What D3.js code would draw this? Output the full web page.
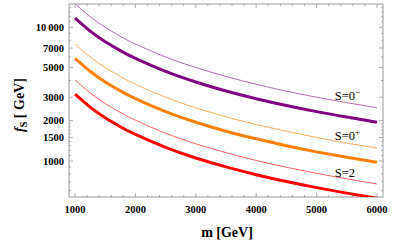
<!DOCTYPE html>
<html>
<head>
<meta charset="utf-8">
<script src="https://cdn.jsdelivr.net/npm/d3@7"></script>
<style>
  body { margin: 0; background: #fff; }
  text { font-family: "Liberation Serif", "DejaVu Serif", serif; }
</style>
</head>
<body>
<div id="chart"></div>
<script>
// masses read at each curve point [GeV]
const masses = [1000, 1250, 1500, 1750, 2000, 2500, 3000, 3500, 4000, 4500, 5000, 5500, 6000];

// f_S [GeV]
const s0minusThin  = [15000, 12000, 10000, 8570, 7500, 6000, 5000, 4290, 3750, 3330, 3000, 2730, 2500];
const s0minusThick = [11700, 9360, 7800, 6690, 5850, 4680, 3900, 3340, 2925, 2600, 2340, 2130, 1950];
const s0plusThin   = [7500, 6000, 5000, 4290, 3750, 3000, 2500, 2140, 1875, 1670, 1500, 1360, 1250];
const s0plusThick  = [5860, 4690, 3900, 3350, 2930, 2340, 1950, 1670, 1465, 1300, 1170, 1065, 977];
const s2Thin       = [4040, 3230, 2690, 2310, 2020, 1615, 1345, 1155, 1010, 898, 808, 735, 673];
const s2Thick      = [3160, 2530, 2105, 1805, 1580, 1265, 1053, 903, 790, 702, 632, 575, 527];

const xTicks = [1000, 2000, 3000, 4000, 5000, 6000];
const yTicks = [1000, 1500, 2000, 3000, 5000, 7000, 10000];
const yMinor = [600, 700, 800, 900, 1100, 1200, 1300, 1400, 1600, 1700, 1800, 1900,
                4000, 6000, 8000, 9000, 11000, 12000, 13000, 14000];
const labels = [
  {text: "S=0", sup: "\u2212", at: 5300, val: 2850},
  {text: "S=0", sup: "+", at: 5300, val: 1430},
  {text: "S=2", sup: null, at: 5300, val: 765}
];

const series = [
  {data: s0minusThin,  color: "#b565b5", w: 1},
  {data: s0minusThick, color: "#800080", w: 3},
  {data: s0plusThin,   color: "#ffaa55", w: 1},
  {data: s0plusThick,  color: "#ff8000", w: 3},
  {data: s2Thin,       color: "#ff6060", w: 1},
  {data: s2Thick,      color: "#ff0000", w: 3}
];

const width = 393, height = 247;
const margin = {left: 69, right: 10, top: 4, bottom: 50};
const x0 = margin.left, x1 = width - margin.right;
const y0 = height - margin.bottom, y1 = margin.top;

const svg = d3.select("#chart").append("svg")
  .attr("width", width).attr("height", height);

const x = d3.scaleLinear().domain([900, 6100]).range([x0, x1]);
// 1000 -> 161px, 10000 -> 27.3px
const pxPerDec = 133.7;
const y = d3.scaleLog()
  .domain([Math.pow(10, 3 - (y0 - 161) / pxPerDec), Math.pow(10, 3 + (161 - y1) / pxPerDec)])
  .range([y0, y1]);

svg.append("defs").append("clipPath").attr("id", "clip")
  .append("rect").attr("x", x0).attr("y", y1).attr("width", x1 - x0).attr("height", y0 - y1);

const frameColor = "#9a9a9a";

// frame
svg.append("rect")
  .attr("x", x0).attr("y", y1).attr("width", x1 - x0).attr("height", y0 - y1)
  .attr("fill", "none").attr("stroke", frameColor).attr("stroke-width", 1);

// ticks, inside, on all four sides
const xMinor = d3.range(1000, 6001, 200).filter(v => v % 1000 !== 0);
const tickG = svg.append("g").attr("stroke", frameColor).attr("stroke-width", 0.8);
xTicks.concat(xMinor).forEach(v => {
  const len = v % 1000 === 0 ? 4 : 2;
  tickG.append("line").attr("x1", x(v)).attr("x2", x(v)).attr("y1", y0).attr("y2", y0 - len);
  tickG.append("line").attr("x1", x(v)).attr("x2", x(v)).attr("y1", y1).attr("y2", y1 + len);
});
yTicks.concat(yMinor).forEach(v => {
  const len = yTicks.includes(v) ? 4 : 2;
  tickG.append("line").attr("x1", x0).attr("x2", x0 + len).attr("y1", y(v)).attr("y2", y(v));
  tickG.append("line").attr("x1", x1).attr("x2", x1 - len).attr("y1", y(v)).attr("y2", y(v));
});

// tick labels
svg.append("g").selectAll("text").data(xTicks).join("text")
  .attr("x", d => x(d)).attr("y", 213)
  .attr("text-anchor", "middle").attr("font-size", 10.5).attr("font-weight", "bold")
  .text(d => d);

svg.append("g").selectAll("text").data(yTicks).join("text")
  .attr("x", 64).attr("y", d => y(d) + 3.5)
  .attr("text-anchor", "end").attr("font-size", 10.5).attr("font-weight", "bold")
  .text(d => d >= 10000 ? "10\u2009000" : d);

// axis titles
svg.append("text")
  .attr("x", 227).attr("y", 237)
  .attr("text-anchor", "middle").attr("font-size", 14).attr("font-weight", "bold")
  .text("m [GeV]");

const yt = svg.append("text")
  .attr("transform", "translate(24,105) rotate(-90)")
  .attr("text-anchor", "middle").attr("font-size", 14).attr("font-weight", "bold");
yt.append("tspan").attr("font-style", "italic").text("f");
yt.append("tspan").attr("font-size", 10).attr("dy", 3).text("S");
yt.append("tspan").attr("dy", -3).text(" [ GeV]");

// curves
const line = d3.line()
  .x((d, i) => x(masses[i]))
  .y(d => y(d))
  .curve(d3.curveNatural);

svg.append("g").attr("clip-path", "url(#clip)")
  .selectAll("path").data(series).join("path")
  .attr("fill", "none")
  .attr("stroke", d => d.color)
  .attr("stroke-width", d => d.w)
  .attr("d", d => line(d.data));

// curve labels
labels.forEach(l => {
  const t = svg.append("text")
    .attr("x", x(l.at)).attr("y", y(l.val))
    .attr("font-size", 12.5)
    .text(l.text);
  if (l.sup) t.append("tspan").attr("dy", -5).attr("font-size", 9).text(l.sup);
});
</script>
</body>
</html>
